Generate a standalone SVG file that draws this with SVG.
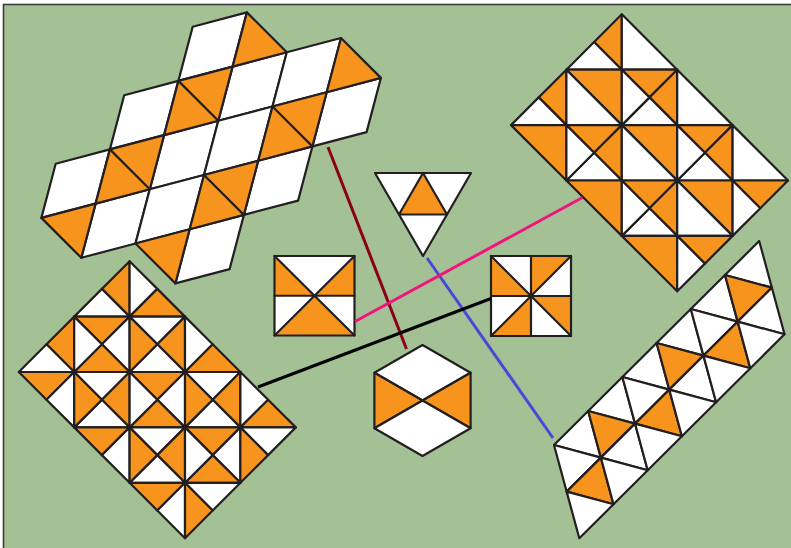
<svg xmlns="http://www.w3.org/2000/svg" width="791" height="548" viewBox="0 0 791 548">
<style>
.o{fill:#f7941e}
.w{fill:#ffffff}
.s{stroke:#231f20;stroke-width:2.2;stroke-linejoin:round;stroke-linecap:round;vector-effect:non-scaling-stroke}
.n{fill:none}
.c{fill:none;stroke-width:3;stroke-linecap:butt}
</style>
<rect x="0" y="0" width="791" height="548" fill="#ffffff"/>
<rect x="3.5" y="4.5" width="800" height="560" fill="#a4c196" stroke="#3c3c3c" stroke-width="1.6"/>

<g id="rhombus-tiling" transform="matrix(54.2,-14.3,-14.3,54.2,192.7,26.7)">
<polygon class="w s" points="0,0 1,0 1,1 0,1"/>
<polygon class="w s" points="-1,1 0,1 0,2 -1,2"/>
<polygon class="w s" points="1,1 2,1 2,2 1,2"/>
<polygon class="w s" points="2,1 3,1 3,2 2,2"/>
<polygon class="w s" points="-2,2 -1,2 -1,3 -2,3"/>
<polygon class="w s" points="0,2 1,2 1,3 0,3"/>
<polygon class="w s" points="1,2 2,2 2,3 1,3"/>
<polygon class="w s" points="3,2 4,2 4,3 3,3"/>
<polygon class="w s" points="-1,3 0,3 0,4 -1,4"/>
<polygon class="w s" points="0,3 1,3 1,4 0,4"/>
<polygon class="w s" points="2,3 3,3 3,4 2,4"/>
<polygon class="w s" points="1,4 2,4 2,5 1,5"/>
<polygon class="o s" points="0,1 1,1 1,2 0,2"/>
<polygon class="o s" points="-1,2 0,2 0,3 -1,3"/>
<polygon class="o s" points="2,2 3,2 3,3 2,3"/>
<polygon class="o s" points="1,3 2,3 2,4 1,4"/>
<polygon class="o s" points="1,0 2,1 1,1"/>
<polygon class="o s" points="3,1 4,2 3,2"/>
<polygon class="o s" points="-2,3 -1,3 -1,4"/>
<polygon class="o s" points="0,4 1,4 1,5"/>
<line class="s" x1="0" y1="1" x2="1" y2="2"/>
<line class="s" x1="-1" y1="2" x2="0" y2="3"/>
<line class="s" x1="2" y1="2" x2="3" y2="3"/>
<line class="s" x1="1" y1="3" x2="2" y2="4"/>
</g>

<g id="square-grid-top-right" transform="translate(511 14.3) scale(55.4)">
<polygon class="o s" points="2,0 2,1 1.5,0.5"/>
<polygon class="w s" points="2,1 1,1 1.5,0.5"/>
<polygon class="w s" points="2,0 3,1 2,1"/>
<polygon class="o s" points="1,1 1,2 0.5,1.5"/>
<polygon class="w s" points="1,2 0,2 0.5,1.5"/>
<polygon class="o s" points="1,1 2,1 2,2"/>
<polygon class="w s" points="1,1 2,2 1,2"/>
<polygon class="o s" points="2,1 3,1 2.5,1.5"/>
<polygon class="o s" points="3,1 3,2 2.5,1.5"/>
<polygon class="w s" points="3,2 2,2 2.5,1.5"/>
<polygon class="w s" points="2,2 2,1 2.5,1.5"/>
<polygon class="w s" points="3,1 4,2 3,2"/>
<polygon class="o s" points="0,2 1,2 1,3"/>
<polygon class="o s" points="1,2 2,2 1.5,2.5"/>
<polygon class="o s" points="2,2 2,3 1.5,2.5"/>
<polygon class="w s" points="2,3 1,3 1.5,2.5"/>
<polygon class="w s" points="1,3 1,2 1.5,2.5"/>
<polygon class="o s" points="2,2 3,2 3,3"/>
<polygon class="w s" points="2,2 3,3 2,3"/>
<polygon class="o s" points="3,2 4,2 3.5,2.5"/>
<polygon class="o s" points="4,2 4,3 3.5,2.5"/>
<polygon class="w s" points="4,3 3,3 3.5,2.5"/>
<polygon class="w s" points="3,3 3,2 3.5,2.5"/>
<polygon class="w s" points="4,2 5,3 4,3"/>
<polygon class="o s" points="1,3 2,3 2,4"/>
<polygon class="o s" points="2,3 3,3 2.5,3.5"/>
<polygon class="o s" points="3,3 3,4 2.5,3.5"/>
<polygon class="w s" points="3,4 2,4 2.5,3.5"/>
<polygon class="w s" points="2,4 2,3 2.5,3.5"/>
<polygon class="o s" points="3,3 4,3 4,4"/>
<polygon class="w s" points="3,3 4,4 3,4"/>
<polygon class="o s" points="4,3 5,3 4.5,3.5"/>
<polygon class="w s" points="4,4 4,3 4.5,3.5"/>
<polygon class="o s" points="2,4 3,4 3,5"/>
<polygon class="o s" points="3,4 4,4 3.5,4.5"/>
<polygon class="w s" points="3,5 3,4 3.5,4.5"/>
</g>

<g id="square-grid-bottom-left" transform="translate(18.8 261.2) scale(55.4)">
<polygon class="o s" points="2,0 2,1 1.5,0.5"/>
<polygon class="w s" points="2,1 1,1 1.5,0.5"/>
<polygon class="w s" points="2,1 2,0 2.5,0.5"/>
<polygon class="o s" points="3,1 2,1 2.5,0.5"/>
<polygon class="o s" points="1,1 1,2 0.5,1.5"/>
<polygon class="w s" points="1,2 0,2 0.5,1.5"/>
<polygon class="o s" points="1,1 2,1 1.5,1.5"/>
<polygon class="w s" points="2,1 2,2 1.5,1.5"/>
<polygon class="o s" points="2,2 1,2 1.5,1.5"/>
<polygon class="w s" points="1,2 1,1 1.5,1.5"/>
<polygon class="w s" points="2,1 3,1 2.5,1.5"/>
<polygon class="o s" points="3,1 3,2 2.5,1.5"/>
<polygon class="w s" points="3,2 2,2 2.5,1.5"/>
<polygon class="o s" points="2,2 2,1 2.5,1.5"/>
<polygon class="w s" points="3,2 3,1 3.5,1.5"/>
<polygon class="o s" points="4,2 3,2 3.5,1.5"/>
<polygon class="o s" points="0,2 1,2 0.5,2.5"/>
<polygon class="w s" points="1,2 1,3 0.5,2.5"/>
<polygon class="w s" points="1,2 2,2 1.5,2.5"/>
<polygon class="o s" points="2,2 2,3 1.5,2.5"/>
<polygon class="w s" points="2,3 1,3 1.5,2.5"/>
<polygon class="o s" points="1,3 1,2 1.5,2.5"/>
<polygon class="o s" points="2,2 3,2 2.5,2.5"/>
<polygon class="w s" points="3,2 3,3 2.5,2.5"/>
<polygon class="o s" points="3,3 2,3 2.5,2.5"/>
<polygon class="w s" points="2,3 2,2 2.5,2.5"/>
<polygon class="w s" points="3,2 4,2 3.5,2.5"/>
<polygon class="o s" points="4,2 4,3 3.5,2.5"/>
<polygon class="w s" points="4,3 3,3 3.5,2.5"/>
<polygon class="o s" points="3,3 3,2 3.5,2.5"/>
<polygon class="w s" points="4,3 4,2 4.5,2.5"/>
<polygon class="o s" points="5,3 4,3 4.5,2.5"/>
<polygon class="o s" points="1,3 2,3 1.5,3.5"/>
<polygon class="w s" points="2,3 2,4 1.5,3.5"/>
<polygon class="w s" points="2,3 3,3 2.5,3.5"/>
<polygon class="o s" points="3,3 3,4 2.5,3.5"/>
<polygon class="w s" points="3,4 2,4 2.5,3.5"/>
<polygon class="o s" points="2,4 2,3 2.5,3.5"/>
<polygon class="o s" points="3,3 4,3 3.5,3.5"/>
<polygon class="w s" points="4,3 4,4 3.5,3.5"/>
<polygon class="o s" points="4,4 3,4 3.5,3.5"/>
<polygon class="w s" points="3,4 3,3 3.5,3.5"/>
<polygon class="w s" points="4,3 5,3 4.5,3.5"/>
<polygon class="o s" points="4,4 4,3 4.5,3.5"/>
<polygon class="o s" points="2,4 3,4 2.5,4.5"/>
<polygon class="w s" points="3,4 3,5 2.5,4.5"/>
<polygon class="w s" points="3,4 4,4 3.5,4.5"/>
<polygon class="o s" points="3,5 3,4 3.5,4.5"/>
</g>

<g id="triangle-strip" transform="matrix(34.2,-34,12.65,46.65,554,445)">
<polygon class="w s" points="0,0 1,0 1,1"/>
<polygon class="w s" points="0,0 1,1 0,1"/>
<polygon class="w s" points="1,0 2,0 2,1"/>
<polygon class="o s" points="1,0 2,1 1,1"/>
<polygon class="w s" points="2,0 3,0 3,1"/>
<polygon class="w s" points="2,0 3,1 2,1"/>
<polygon class="w s" points="3,0 4,0 4,1"/>
<polygon class="o s" points="3,0 4,1 3,1"/>
<polygon class="w s" points="4,0 5,0 5,1"/>
<polygon class="w s" points="4,0 5,1 4,1"/>
<polygon class="w s" points="5,0 6,0 6,1"/>
<polygon class="o s" points="5,0 6,1 5,1"/>
<polygon class="o s" points="0,1 1,1 1,2"/>
<polygon class="w s" points="0,1 1,2 0,2"/>
<polygon class="w s" points="1,1 2,1 2,2"/>
<polygon class="w s" points="1,1 2,2 1,2"/>
<polygon class="o s" points="2,1 3,1 3,2"/>
<polygon class="w s" points="2,1 3,2 2,2"/>
<polygon class="w s" points="3,1 4,1 4,2"/>
<polygon class="w s" points="3,1 4,2 3,2"/>
<polygon class="o s" points="4,1 5,1 5,2"/>
<polygon class="w s" points="4,1 5,2 4,2"/>
<polygon class="w s" points="5,1 6,1 6,2"/>
<polygon class="w s" points="5,1 6,2 5,2"/>
</g>

<g id="triangle">
<polygon class="w s" points="375,173 471,173 423,256"/>
<polygon class="o s" points="423,173 447,214.5 399,214.5"/>
</g>

<g id="square-left">
<polygon class="w" points="274.5,256 354.5,256 314.5,295.75"/>
<polygon class="o" points="274.5,335.5 354.5,335.5 314.5,295.75"/>
<polygon class="o" points="274.5,256 274.5,295.75 314.5,295.75"/>
<polygon class="w" points="274.5,295.75 274.5,335.5 314.5,295.75"/>
<polygon class="o" points="354.5,256 354.5,295.75 314.5,295.75"/>
<polygon class="w" points="354.5,295.75 354.5,335.5 314.5,295.75"/>
<path class="s n" d="M274.5,256L354.5,335.5M354.5,256L274.5,335.5M274.5,295.75H354.5"/>
<rect class="s n" x="274.5" y="256" width="80" height="79.5"/>
</g>

<g id="square-right">
<polygon class="w" points="491,256 531,256 531,296"/>
<polygon class="o" points="491,256 531,296 491,296"/>
<polygon class="o" points="531,256 571,256 531,296"/>
<polygon class="w" points="571,256 571,296 531,296"/>
<polygon class="o" points="571,296 571,336 531,296"/>
<polygon class="w" points="571,336 531,336 531,296"/>
<polygon class="w" points="491,296 491,336 531,296"/>
<polygon class="o" points="491,336 531,336 531,296"/>
<path class="s n" d="M491,256L571,336M571,256L491,336M491,296H571M531,256V336"/>
<rect class="s n" x="491" y="256" width="80" height="80"/>
</g>

<g id="hexagon">
<polygon class="w s" points="422.5,400.5 374.4,372.75 422.5,345 470.6,372.75"/>
<polygon class="o s" points="422.5,400.5 374.4,372.75 374.4,428.25"/>
<polygon class="o s" points="422.5,400.5 470.6,372.75 470.6,428.25"/>
<polygon class="w s" points="422.5,400.5 470.6,428.25 422.5,456 374.4,428.25"/>
</g>

<g id="connectors">
<line class="c" x1="328" y1="147" x2="406.5" y2="349" stroke="#8b0015"/>
<line class="c" x1="427" y1="258" x2="553" y2="438" stroke="#4848d8"/>
<line class="c" x1="258" y1="387" x2="491" y2="298.5" stroke="#000000"/>
<line class="c" x1="355" y1="321.5" x2="582.5" y2="197.5" stroke="#f0147c"/>
</g>
</svg>
